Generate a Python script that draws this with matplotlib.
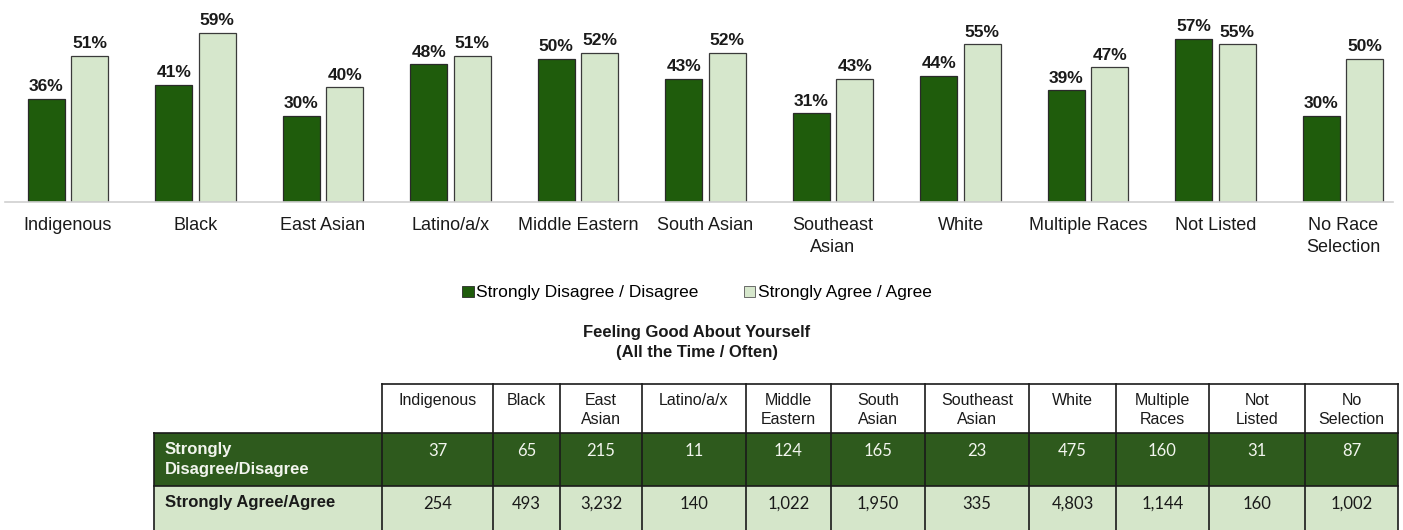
import matplotlib.pyplot as plt
from matplotlib.patches import Patch, Rectangle

plt.rcParams['font.family'] = ['Liberation Sans', 'DejaVu Sans']

categories = ["Indigenous", "Black", "East Asian", "Latino/a/x", "Middle Eastern",
              "South Asian", "Southeast\nAsian", "White", "Multiple Races",
              "Not Listed", "No Race\nSelection"]
disagree_pct = [36, 41, 30, 48, 50, 43, 31, 44, 39, 57, 30]
agree_pct = [51, 59, 40, 51, 52, 52, 43, 55, 47, 55, 50]

table_cols = ["Indigenous", "Black", "East\nAsian", "Latino/a/x", "Middle\nEastern",
              "South\nAsian", "Southeast\nAsian", "White", "Multiple\nRaces",
              "Not\nListed", "No\nSelection"]
row_labels = ["Strongly\nDisagree/Disagree", "Strongly Agree/Agree"]
disagree_n = ["37", "65", "215", "11", "124", "165", "23", "475", "160", "31", "87"]
agree_n = ["254", "493", "3,232", "140", "1,022", "1,950", "335", "4,803", "1,144", "160", "1,002"]

dark = "#1f5c0c"
light = "#d6e7cc"
tab_dark = "#2e5a1d"
tab_light = "#d5e6ca"

W, H = 1403, 530
fig = plt.figure(figsize=(W / 100, H / 100), dpi=100)

# bar chart
ax = fig.add_axes([5 / W, 1 - 202 / H, 1388 / W, 202 / H])
x = list(range(len(categories)))
bw = 0.29
off = 0.17
b1 = ax.bar([i - off for i in x], disagree_pct, bw, color=dark, edgecolor="#2a2a2a", linewidth=0.9)
b2 = ax.bar([i + off for i in x], agree_pct, bw, color=light, edgecolor="#3a3a3a", linewidth=0.9)
for bars, vals in ((b1, disagree_pct), (b2, agree_pct)):
    for r, v in zip(bars, vals):
        ax.text(r.get_x() + r.get_width() / 2, v + 1.6, f"{v}%", ha="center", va="bottom",
                fontsize=12.5, fontweight="bold", color="#1a1a1a")

ax.set_xlim(-0.494, 10.392)
ax.set_ylim(0, 70.5)
ax.set_xticks(x)
ax.set_xticklabels(categories, fontsize=13, color="#1a1a1a", linespacing=1.35)
ax.tick_params(axis="x", length=0, pad=11)
ax.set_yticks([])
for s in ["top", "right", "left"]:
    ax.spines[s].set_visible(False)
ax.spines["bottom"].set_color("#d0d0d0")
ax.spines["bottom"].set_linewidth(1.2)

handles = [Patch(facecolor=dark, edgecolor="#2a2a2a", linewidth=0.6),
           Patch(facecolor=light, edgecolor="#555555", linewidth=0.6)]
fig.legend(handles, ["Strongly Disagree / Disagree", "Strongly Agree / Agree"],
           loc="center", bbox_to_anchor=(697 / W, 1 - 293 / H), ncol=2, frameon=False,
           fontsize=12.5, handlelength=0.65, handleheight=0.65, handletextpad=0.15,
           columnspacing=2.6)

fig.text(697 / W, 1 - 342.5 / H, "Feeling Good About Yourself\n(All the Time / Often)",
         ha="center", va="center", fontsize=12, fontweight="bold", linespacing=1.45,
         color="#1a1a1a")

# table
tax = fig.add_axes([0, 0, 1, 1])
tax.set_xlim(0, W)
tax.set_ylim(H, 0)
tax.axis("off")

col_edges = [382, 493, 560, 642, 746, 831, 925, 1029, 1116, 1209, 1305, 1398]
left = 154
rows = [384, 433, 486, 534]

tax.add_patch(Rectangle((left, rows[1]), col_edges[-1] - left, rows[2] - rows[1], color=tab_dark, lw=0))
tax.add_patch(Rectangle((left, rows[2]), col_edges[-1] - left, rows[3] - rows[2], color=tab_light, lw=0))

lc = "#1a1a1a"
tax.plot([col_edges[0], col_edges[-1]], [rows[0], rows[0]], color=lc, lw=1.2)
for y in rows[1:3]:
    tax.plot([left, col_edges[-1]], [y, y], color=lc, lw=1.2)
for xe in col_edges:
    tax.plot([xe, xe], [rows[0], rows[3]], color=lc, lw=1.2)
tax.plot([left, left], [rows[1], rows[3]], color=lc, lw=1.2)

for i, name in enumerate(table_cols):
    cx = (col_edges[i] + col_edges[i + 1]) / 2
    tax.text(cx, 393, name, ha="center", va="top", fontsize=11.5, linespacing=1.3, color="#1a1a1a")
    tax.text(cx, 451, disagree_n[i], ha="center", va="center", fontsize=12,
             family=["Lato", "DejaVu Sans"], color="#f2f5ee")
    tax.text(cx, 504, agree_n[i], ha="center", va="center", fontsize=12,
             family=["Lato", "DejaVu Sans"], color="#1a1a1a")

tax.text(165, 442, row_labels[0], ha="left", va="top", fontsize=12, fontweight="bold",
         color="#f2f5ee", linespacing=1.45)
tax.text(165, 502, row_labels[1], ha="left", va="center", fontsize=12, fontweight="bold",
         color="#1a1a1a")

fig.savefig("out.png", dpi=100)
